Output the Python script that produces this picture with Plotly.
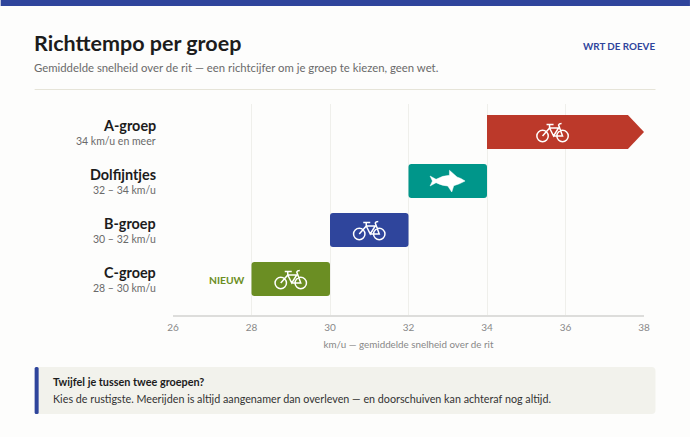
import plotly.graph_objects as go

# Data
groups = ["A-groep", "Dolfijntjes", "B-groep", "C-groep"]
ranges = ["34 km/u en meer", "32 – 34 km/u", "30 – 32 km/u", "28 – 30 km/u"]
starts = [34, 32, 30, 28]
ends = [38, 34, 32, 30]
colors = ["#bc392a", "#00968a", "#2f459c", "#6b8e23"]
tick_vals = [26, 28, 30, 32, 34, 36, 38]

W, H = 690, 437
L, R, T, B = 172.5, 644, 104, 315
ROW = 49
BAR = 34
FONT = "Lato"
BLUE = "#2f459c"


def px(x):
    return (x - L) / (R - L)


def py(y):
    return (B - y) / (B - T)


def circle(cx, cy, r):
    k = 0.552 * r
    return (f"M{cx - r},{cy} C{cx - r},{cy + k} {cx - k},{cy + r} {cx},{cy + r} "
            f"C{cx + k},{cy + r} {cx + r},{cy + k} {cx + r},{cy} "
            f"C{cx + r},{cy - k} {cx + k},{cy - r} {cx},{cy - r} "
            f"C{cx - k},{cy - r} {cx - r},{cy - k} {cx - r},{cy} Z ")


def round_box(x0, x1, y0, y1, r):
    # rounded box on the page, in page pixels
    pts = [("M", x0 + r, y0), ("L", x1 - r, y0), ("Q", x1, y0, x1, y0 + r), ("L", x1, y1 - r),
           ("Q", x1, y1, x1 - r, y1), ("L", x0 + r, y1), ("Q", x0, y1, x0, y1 - r), ("L", x0, y0 + r),
           ("Q", x0, y0, x0 + r, y0)]
    out = []
    for p in pts:
        nums = p[1:]
        coords = [f"{px(nums[i])},{py(nums[i + 1])}" for i in range(0, len(nums), 2)]
        out.append(p[0] + " ".join(coords))
    return " ".join(out) + " Z"


# icons in pixels around their anchor
BIKE = (circle(-10, -4, 5.7) + circle(10, -4, 5.7)
        + "M-10,-4 L-3,4 L6,4 L1,-4 L-3,4 M1,-4 L10,-4 L6,7 Q6.5,8.5 9,8.5 "
        + "M-3,4 L-3,7.5 M-6,7.5 L1,7.5")
FISH = ("M-17.7,5 L-15.3,0 L-17.7,-5 L-11.7,-1.7 Q-5,-5 0,-5 L4,-11 L6,-4.7 "
        "Q12,-3 17.3,0 Q13,3 9.3,4 L1.7,10.7 L1.7,5.7 Q-5,5.5 -11.7,1.7 Z")
icon_x = [35.67, 33, 31, 29]
icons = ["bike", "fish", "bike", "bike"]

y_pos = list(range(len(groups) - 1, -1, -1))
half = BAR / ROW / 2
arrow_depth = 0.41

fig = go.Figure()

# A-groep is open ended, so it gets an arrow point
fig.add_trace(go.Scatter(
    x=[starts[0], ends[0] - arrow_depth, ends[0], ends[0] - arrow_depth, starts[0], starts[0]],
    y=[y_pos[0] + half, y_pos[0] + half, y_pos[0], y_pos[0] - half, y_pos[0] - half, y_pos[0] + half],
    mode="lines",
    fill="toself",
    fillcolor=colors[0],
    line=dict(width=0),
    hoverinfo="skip",
    showlegend=False,
))

fig.add_trace(go.Bar(
    y=y_pos[1:],
    x=[e - s for s, e in zip(starts[1:], ends[1:])],
    base=starts[1:],
    orientation="h",
    width=BAR / ROW,
    marker=dict(color=colors[1:], line=dict(width=0), cornerradius=3),
    showlegend=False,
))

shapes = [
    dict(type="rect", xref="paper", yref="paper", x0=px(0), x1=px(W), y0=py(0), y1=py(6),
         fillcolor=BLUE, line_width=0, layer="below"),
    dict(type="line", xref="paper", yref="paper", x0=px(34), x1=px(655.5), y0=py(89.5), y1=py(89.5),
         line=dict(color="#e6e4d8", width=1), layer="below"),
    dict(type="path", xref="paper", yref="paper", path=round_box(34, 655.5, 367, 414, 4),
         fillcolor="#f2f2ec", line_width=0, layer="below"),
    dict(type="path", xref="paper", yref="paper", path=round_box(34, 38, 367, 414, 1.5),
         fillcolor=BLUE, line_width=0, layer="below"),
]
for xc, yc, icon in zip(icon_x, y_pos, icons):
    shape = dict(type="path", xref="x", yref="y", xsizemode="pixel", ysizemode="pixel",
                 xanchor=xc, yanchor=yc, layer="above")
    if icon == "bike":
        shape.update(path=BIKE, line=dict(color="white", width=1.5))
    else:
        shape.update(path=FISH, fillcolor="white", line=dict(color="white", width=0.5))
    shapes.append(shape)


def note(text, x, y, size, color, anchor="left", bold=False):
    return dict(xref="paper", yref="paper", x=px(x), y=py(y), text=f"<b>{text}</b>" if bold else text,
                showarrow=False, xanchor=anchor, yanchor="middle", align=anchor,
                font=dict(family=FONT, size=size, color=color))


annotations = [
    note("Richttempo per groep", 31.5, 43, 21.5, "#1c1c1c", bold=True),
    note("Gemiddelde snelheid over de rit — een richtcijfer om je groep te kiezen, geen wet.",
         31.5, 67.5, 11.35, "#6a6a6a"),
    note("WRT DE ROEVE", 657.5, 46.5, 9.8, BLUE, anchor="right", bold=True),
    note("Twijfel je tussen twee groepen?", 50.5, 381, 10.85, "#1c1c1c", bold=True),
    note("Kies de rustigste. Meerijden is altijd aangenamer dan overleven — en doorschuiven kan achteraf nog altijd.",
         50.5, 398, 10.75, "#333333"),
    dict(xref="x", yref="y", x=starts[3], y=y_pos[3], xshift=-5, yshift=-1, text="<b>NIEUW</b>",
         showarrow=False, xanchor="right", font=dict(family=FONT, size=10.3, color=colors[3])),
]
for name, sub, yc in zip(groups, ranges, y_pos):
    annotations.append(dict(xref="paper", yref="y", x=px(157.5), y=yc, yshift=7, text=f"<b>{name}</b>",
                            showarrow=False, xanchor="right", font=dict(family=FONT, size=14.4, color="#1c1c1c")))
    annotations.append(dict(xref="paper", yref="y", x=px(157.5), y=yc, yshift=-9, text=sub,
                            showarrow=False, xanchor="right", font=dict(family=FONT, size=10.5, color="#6a6a6a")))

fig.update_layout(
    width=W,
    height=H,
    margin=dict(l=L, r=W - R, t=T, b=H - B),
    paper_bgcolor="#fdfdfc",
    plot_bgcolor="#fdfdfc",
    showlegend=False,
    xaxis=dict(
        range=[tick_vals[0], tick_vals[-1]],
        tickvals=tick_vals,
        ticks="outside",
        ticklen=2,
        tickcolor="rgba(0,0,0,0)",
        showgrid=True,
        gridcolor="#efefeb",
        gridwidth=1,
        zeroline=False,
        showline=True,
        linecolor="#dddddb",
        linewidth=2,
        tickfont=dict(family=FONT, size=10, color="#888888"),
        title=dict(text="km/u — gemiddelde snelheid over de rit", standoff=9,
                   font=dict(family=FONT, size=9.8, color="#888888")),
    ),
    yaxis=dict(
        range=[-(B - 279) / ROW, 3 + (132 - T) / ROW],
        showticklabels=False,
        showgrid=False,
        zeroline=False,
        showline=False,
        ticks="",
    ),
    shapes=shapes,
    annotations=annotations,
)

fig.write_html("out.html", config=dict(displayModeBar=False),
               post_script="document.body.style.margin='0';document.body.style.background='#fdfdfc';")
